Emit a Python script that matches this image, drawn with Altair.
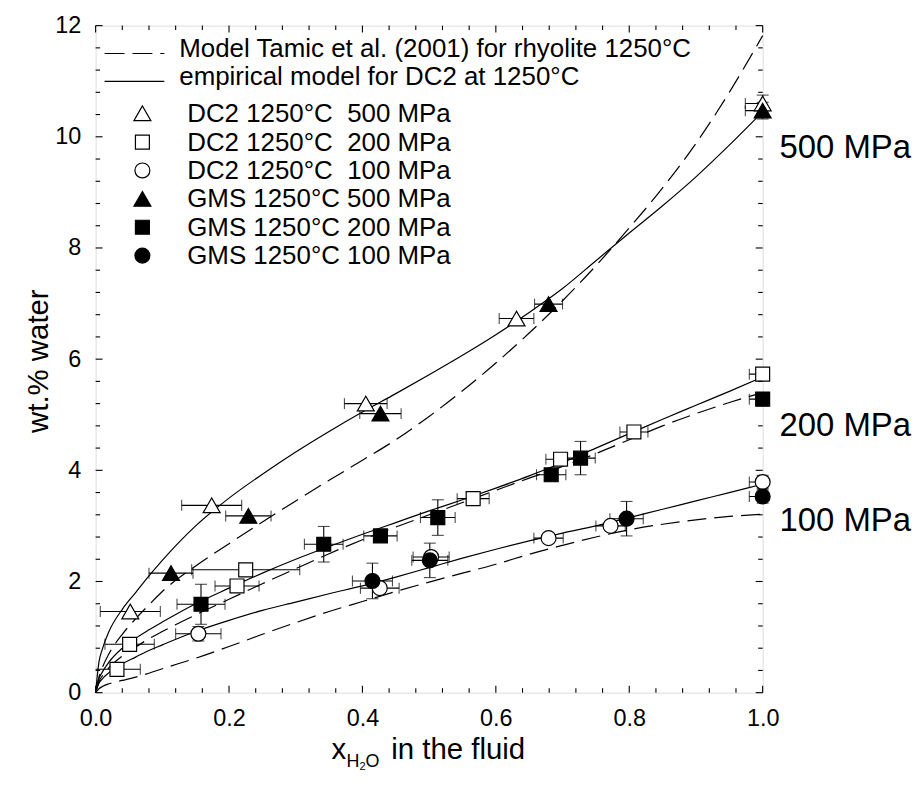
import altair as alt
import pandas as pd

FONT = "Liberation Sans"
W = 670
H = 670

# ---------------- curves ----------------
x_grid = [0, 0.005, 0.01, 0.02, 0.04, 0.06, 0.08, 0.1, 0.15, 0.2, 0.25, 0.3, 0.35,
          0.4, 0.45, 0.5, 0.55, 0.6, 0.65, 0.7, 0.75, 0.8, 0.85, 0.9, 0.95, 1.0]
emp_500 = [0, 0.55, 0.78, 1.1, 1.5, 1.8, 2.1, 2.38, 3.0, 3.5, 3.93, 4.33, 4.7,
           5.05, 5.38, 5.72, 6.07, 6.44, 6.84, 7.27, 7.77, 8.27, 8.76, 9.28, 9.85, 10.45]
emp_200 = [0, 0.25, 0.37, 0.55, 0.8, 0.98, 1.13, 1.27, 1.6, 1.88, 2.15, 2.4, 2.63,
           2.85, 3.06, 3.27, 3.47, 3.68, 3.9, 4.14, 4.4, 4.66, 4.92, 5.17, 5.42, 5.68]
emp_100 = [0, 0.17, 0.25, 0.36, 0.52, 0.64, 0.76, 0.86, 1.1, 1.3, 1.48, 1.63, 1.78,
           1.92, 2.08, 2.25, 2.42, 2.58, 2.73, 2.87, 3.0, 3.15, 3.3, 3.45, 3.6, 3.75]
tamic_500 = [0, 0.28, 0.45, 0.7, 1.05, 1.33, 1.58, 1.82, 2.28, 2.68, 3.07, 3.45, 3.82,
             4.18, 4.55, 4.97, 5.43, 5.93, 6.47, 7.05, 7.68, 8.36, 9.08, 9.88, 10.8, 11.82]
tamic_200 = [0, 0.2, 0.3, 0.45, 0.66, 0.82, 0.97, 1.1, 1.4, 1.68, 1.96, 2.23, 2.5,
             2.75, 2.98, 3.2, 3.42, 3.64, 3.86, 4.07, 4.3, 4.55, 4.8, 5.02, 5.22, 5.4]
tamic_100 = [0, 0.07, 0.11, 0.16, 0.22, 0.28, 0.35, 0.43, 0.62, 0.83, 1.05, 1.26, 1.46,
             1.64, 1.82, 1.99, 2.15, 2.31, 2.49, 2.65, 2.8, 2.93, 3.03, 3.11, 3.17, 3.21]

# ---------------- measured points ----------------
dc2_500_x = [0.052, 0.174, 0.405, 0.631, 1.0]
dc2_500_y = [1.46, 3.37, 5.2, 6.73, 10.6]
dc2_500_xerr = [0.045, 0.045, 0.032, 0.026, 0.026]
dc2_500_yerr = [0, 0, 0, 0, 0.15]

dc2_200_x = [0.032, 0.051, 0.212, 0.225, 0.566, 0.697, 0.807, 1.0]
dc2_200_y = [0.42, 0.87, 1.92, 2.21, 3.49, 4.2, 4.69, 5.73]
dc2_200_xerr = [0.035, 0.037, 0.033, 0.081, 0.024, 0.022, 0.021, 0.02]
dc2_200_yerr = [0, 0, 0, 0, 0, 0, 0, 0.1]

dc2_100_x = [0.154, 0.426, 0.503, 0.679, 0.772, 1.0]
dc2_100_y = [1.06, 1.88, 2.44, 2.78, 3.0, 3.79]
dc2_100_xerr = [0.034, 0.029, 0.027, 0.022, 0.022, 0.02]
dc2_100_yerr = [0.13, 0, 0, 0, 0, 0.12]

gms_500_x = [0.113, 0.229, 0.427, 0.679, 1.0]
gms_500_y = [2.15, 3.18, 5.02, 6.99, 10.47]
gms_500_xerr = [0.033, 0.034, 0.031, 0.021, 0.026]
gms_500_yerr = [0, 0, 0, 0, 0.15]

gms_200_x = [0.158, 0.342, 0.427, 0.513, 0.683, 0.727, 1.0]
gms_200_y = [1.59, 2.67, 2.82, 3.15, 3.92, 4.22, 5.28]
gms_200_xerr = [0.036, 0.029, 0.025, 0.026, 0.022, 0.022, 0.02]
gms_200_yerr = [0.36, 0.32, 0, 0.32, 0, 0.3, 0.12]

gms_100_x = [0.415, 0.501, 0.796, 1.0]
gms_100_y = [2.01, 2.38, 3.13, 3.53]
gms_100_xerr = [0.03, 0.027, 0.025, 0.02]
gms_100_yerr = [0.32, 0.31, 0.31, 0.12]

# ---------------- texts ----------------
legend_line_labels = ["Model Tamic et al. (2001) for rhyolite 1250°C",
                      "empirical model for DC2 at 1250°C"]
legend_marker_labels = ["DC2 1250°C\u00a0 500 MPa", "DC2 1250°C\u00a0 200 MPa",
                        "DC2 1250°C\u00a0 100 MPa", "GMS 1250°C 500 MPa",
                        "GMS 1250°C 200 MPa", "GMS 1250°C 100 MPa"]
pressure_labels = ["500 MPa", "200 MPa", "100 MPa"]
pressure_label_y = [9.62, 4.61, 2.91]
x_major = [0.0, 0.2, 0.4, 0.6, 0.8, 1.0]
y_major = [0, 2, 4, 6, 8, 10, 12]
x_minor = [round(i * 0.04, 2) for i in range(26) if i % 5]
y_minor = [round(i * 0.4, 1) for i in range(31) if i % 5]

# ---------------- scales / axes ----------------
xs = alt.Scale(domain=[0, 1], nice=False, zero=False)
ys = alt.Scale(domain=[0, 12], nice=False, zero=False)
x_axis = alt.Axis(values=x_major, format=".1f", ticks=False, domain=False, grid=False,
                  title=None, labelFontSize=23.5, labelPadding=14, labelFont=FONT,
                  labelColor="black", labelFlush=False, labelOverlap=False)
y_axis = alt.Axis(values=y_major, format="d", ticks=False, domain=False, grid=False,
                  title=None, labelFontSize=23.5, labelPadding=15, labelFont=FONT,
                  labelColor="black", labelOverlap=False, labelFlush=False)


def X(field):
    return alt.X(field, type="quantitative", scale=xs, axis=x_axis)


def Y(field):
    return alt.Y(field, type="quantitative", scale=ys, axis=y_axis)


layers = []

# curves
curves = [(emp_500, False), (emp_200, False), (emp_100, False),
          (tamic_500, True), (tamic_200, True), (tamic_100, True)]
for vals, dashed in curves:
    df = pd.DataFrame({"x": x_grid, "y": vals})
    kw = dict(color="black", strokeWidth=1.2, interpolate="monotone")
    if dashed:
        kw["strokeDash"] = [19, 8]
    layers.append(alt.Chart(df).mark_line(**kw).encode(x=X("x"), y=Y("y")))

series = [
    ("DC2 500", dc2_500_x, dc2_500_y, dc2_500_xerr, dc2_500_yerr, "triangle-up", False, 290),
    ("DC2 200", dc2_200_x, dc2_200_y, dc2_200_xerr, dc2_200_yerr, "square", False, 196),
    ("DC2 100", dc2_100_x, dc2_100_y, dc2_100_xerr, dc2_100_yerr, "circle", False, 225),
    ("GMS 500", gms_500_x, gms_500_y, gms_500_xerr, gms_500_yerr, "triangle-up", True, 290),
    ("GMS 200", gms_200_x, gms_200_y, gms_200_xerr, gms_200_yerr, "square", True, 196),
    ("GMS 100", gms_100_x, gms_100_y, gms_100_xerr, gms_100_yerr, "circle", True, 225),
]

# error bars
rows = []
for name, xv, yv, xe, ye, *_ in series:
    for a, b, c, d in zip(xv, yv, xe, ye):
        rows.append({"x": a, "y": b, "xlo": a - c, "xhi": a + c,
                     "ylo": b - d, "yhi": b + d, "xe": c, "ye": d})
err = pd.DataFrame(rows)
xerr_df = err[err["xe"] > 0]
yerr_df = err[err["ye"] > 0]
EB = dict(color="black", strokeWidth=1.1)
layers.append(alt.Chart(xerr_df).mark_rule(clip=True, **EB).encode(x=X("xlo"), x2="xhi", y=Y("y")))
layers.append(alt.Chart(xerr_df).mark_tick(clip=True, orient="vertical", size=11, thickness=1.1,
                                           color="black").encode(x=X("xlo"), y=Y("y")))
layers.append(alt.Chart(xerr_df).mark_tick(clip=True, orient="vertical", size=11, thickness=1.1,
                                           color="black").encode(x=X("xhi"), y=Y("y")))
layers.append(alt.Chart(yerr_df).mark_rule(**EB).encode(x=X("x"), y=Y("ylo"), y2="yhi"))
layers.append(alt.Chart(yerr_df).mark_tick(orient="horizontal", size=12, thickness=1.1,
                                           color="black").encode(x=X("x"), y=Y("ylo")))
layers.append(alt.Chart(yerr_df).mark_tick(orient="horizontal", size=12, thickness=1.1,
                                           color="black").encode(x=X("x"), y=Y("yhi")))

# markers
for name, xv, yv, xe, ye, shape, filled, size in series:
    df = pd.DataFrame({"x": xv, "y": yv})
    layers.append(alt.Chart(df).mark_point(
        shape=shape, size=size, filled=True, fill="black" if filled else "white",
        stroke="black", strokeWidth=1.2, opacity=1
    ).encode(x=X("x"), y=Y("y")))

# legend
one = pd.DataFrame({"k": [0]})
line_legend_y = [28, 56]
line_text_y = [32, 59.5]
for i, lab in enumerate(legend_line_labels):
    kw = dict(color="black", strokeWidth=1.2)
    if i == 0:
        kw["strokeDash"] = [20, 8]
    layers.append(alt.Chart(one).mark_rule(**kw).encode(
        x=alt.value(9), x2=alt.value(69), y=alt.value(line_legend_y[i])))
    layers.append(alt.Chart(one).mark_text(
        text=lab, align="left", baseline="alphabetic", font=FONT, fontSize=26, color="black"
    ).encode(x=alt.value(84), y=alt.value(line_text_y[i])))

marker_y = [88, 117, 145.5, 174, 202.5, 231]
for i, (s, lab) in enumerate(zip(series, legend_marker_labels)):
    shape, filled, size = s[5], s[6], s[7]
    layers.append(alt.Chart(one).mark_point(
        shape=shape, size=size, filled=True, fill="black" if filled else "white",
        stroke="black", strokeWidth=1.2, opacity=1
    ).encode(x=alt.value(47), y=alt.value(marker_y[i])))
    layers.append(alt.Chart(one).mark_text(
        text=lab, align="left", baseline="alphabetic", font=FONT, fontSize=26, color="black"
    ).encode(x=alt.value(92), y=alt.value(marker_y[i] + 8.5)))

# pressure labels at the right
pl = pd.DataFrame({"t": pressure_labels, "y": pressure_label_y})
layers.append(alt.Chart(pl).mark_text(
    align="left", baseline="alphabetic", font=FONT, fontSize=33, color="black"
).encode(x=alt.value(687), y=Y("y"), text="t:N"))

# axis titles
layers.append(alt.Chart(one).mark_text(
    text="wt.% water", angle=270, align="center", baseline="middle", font=FONT,
    fontSize=29.5, color="black").encode(x=alt.value(-57), y=alt.value(337)))
TB = 737
layers.append(alt.Chart(one).mark_text(
    text="x", align="left", baseline="alphabetic", font=FONT, fontSize=29.5,
    color="black").encode(x=alt.value(237), y=alt.value(TB)))
layers.append(alt.Chart(one).mark_text(
    text="H", align="left", baseline="alphabetic", font=FONT, fontSize=18,
    color="black").encode(x=alt.value(252), y=alt.value(TB + 8)))
layers.append(alt.Chart(one).mark_text(
    text="2", align="left", baseline="alphabetic", font=FONT, fontSize=11,
    color="black").encode(x=alt.value(265), y=alt.value(TB + 11)))
layers.append(alt.Chart(one).mark_text(
    text="O", align="left", baseline="alphabetic", font=FONT, fontSize=18,
    color="black").encode(x=alt.value(271), y=alt.value(TB + 8)))
layers.append(alt.Chart(one).mark_text(
    text="in the fluid", align="left", baseline="alphabetic", font=FONT, fontSize=29.5,
    color="black").encode(x=alt.value(297), y=alt.value(TB)))

# inward ticks on all four sides
for vals, L in [(x_major, 7), (x_minor, 4.5)]:
    df = pd.DataFrame({"v": vals})
    layers.append(alt.Chart(df).mark_rule(color="black", strokeWidth=1.1).encode(
        x=X("v"), y=alt.value(H), y2=alt.value(H - L)))
    layers.append(alt.Chart(df).mark_rule(color="black", strokeWidth=1.1).encode(
        x=X("v"), y=alt.value(0), y2=alt.value(L)))
for vals, L in [(y_major, 7), (y_minor, 4.5)]:
    df = pd.DataFrame({"v": vals})
    layers.append(alt.Chart(df).mark_rule(color="black", strokeWidth=1.1).encode(
        y=Y("v"), x=alt.value(0), x2=alt.value(L)))
    layers.append(alt.Chart(df).mark_rule(color="black", strokeWidth=1.1).encode(
        y=Y("v"), x=alt.value(W), x2=alt.value(W - L)))

chart = alt.layer(*layers).properties(
    width=W, height=H,
    autosize=alt.AutoSizeParams(type="none"),
    padding={"left": 88, "top": 16, "right": 150, "bottom": 83},
).configure_view(stroke="black", strokeWidth=1.2).configure(background="white")

chart.save("out.html", embed_options={"renderer": "svg", "actions": False})
